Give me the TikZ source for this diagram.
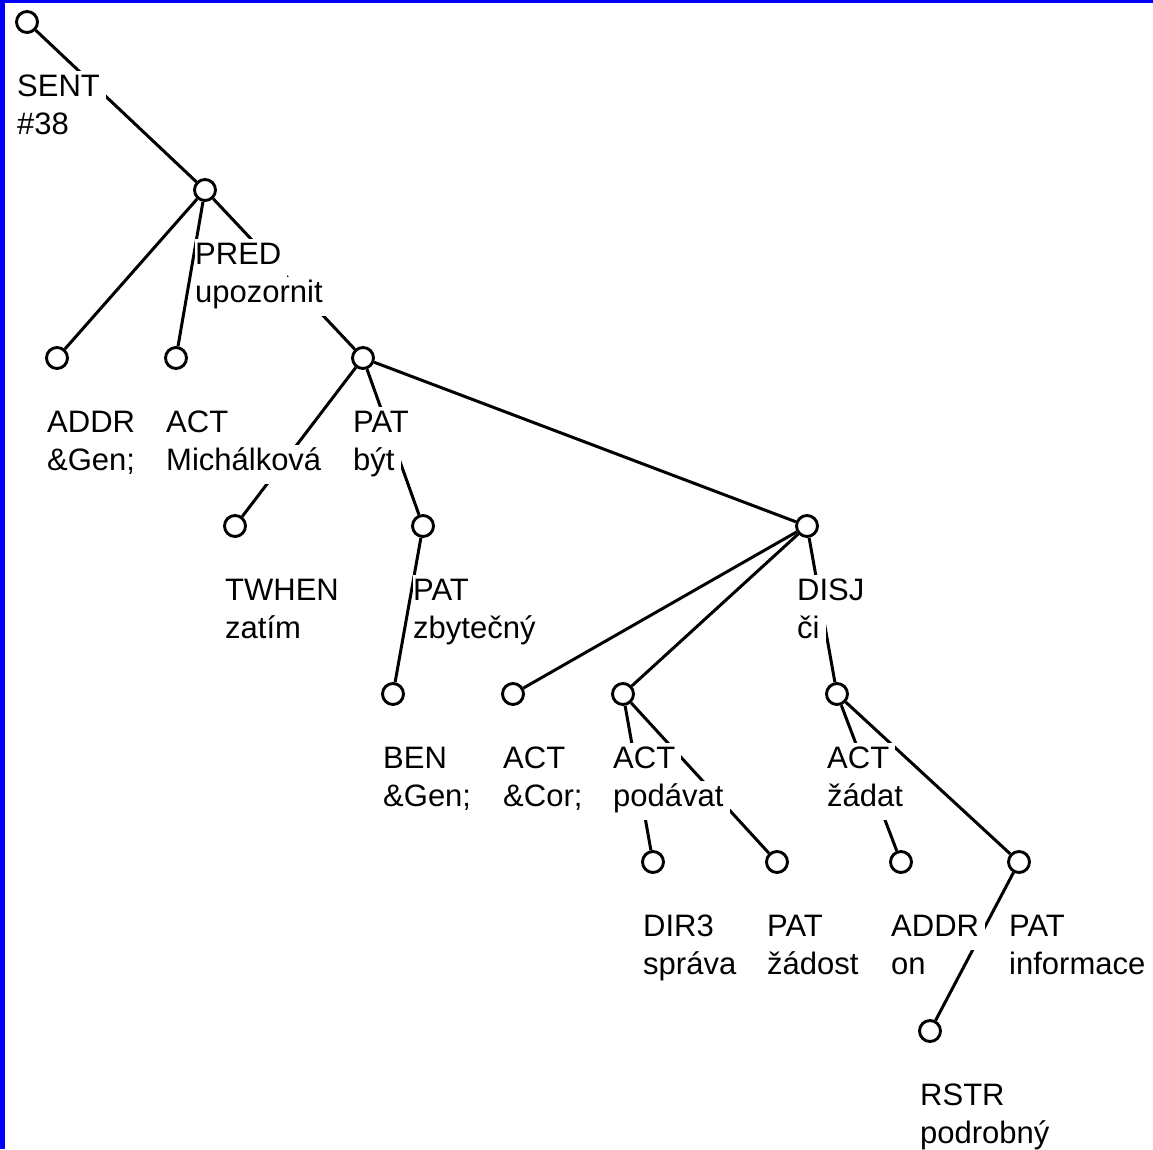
\documentclass[tikz,border=0pt]{standalone}
\usepackage{fontspec}
\setmainfont{Liberation Sans}
\begin{document}
\begin{tikzpicture}[x=1pt,y=-1pt,
    dot/.style={draw, circle, line width=2.9pt, minimum size=21pt, inner sep=0pt, fill=white},
    edge/.style={line width=3pt},
    lbl/.style={fill=white, inner sep=0pt, anchor=base west, text height=25pt, text depth=14pt,
                font=\fontsize{31}{38}\selectfont, execute at end node={\kern6pt}}]
  \useasboundingbox (0,0) rectangle (1153,1149);
  \fill[blue] (0,0) rectangle (1153,3);
  \fill[blue] (0,0) rectangle (5,1149);

  % tree nodes
  \foreach \n/\x/\y in {root/27/22, pred/205/190,
                        addr/57/358, act/176/358, pat/363/358,
                        twhen/235/526, patz/423/526, disj/807/526,
                        ben/393/694, actcor/513/694, podavat/623/694, zadat/837/694,
                        dir/653/862, zadost/777/862, addron/901/862, info/1019/862,
                        rstr/930/1031}
    \node[dot] (\n) at (\x,\y) {};

  % edges
  \foreach \a/\b in {root/pred, pred/addr, pred/act, pred/pat,
                     pat/twhen, pat/patz, pat/disj, patz/ben,
                     disj/actcor, disj/podavat, disj/zadat,
                     podavat/dir, podavat/zadost, zadat/addron, zadat/info, info/rstr}
    \draw[edge] (\a) -- (\b);

  % functor and lemma under each node
  \foreach \n/\f/\l in {root/SENT/\#38, pred/PRED/upozornit,
                        addr/ADDR/\&Gen;, act/ACT/Michálková, pat/PAT/být,
                        twhen/TWHEN/zatím, patz/PAT/zbytečný, disj/DISJ/či,
                        ben/BEN/\&Gen;, actcor/ACT/\&Cor;, podavat/ACT/podávat, zadat/ACT/žádat,
                        dir/DIR3/správa, zadost/PAT/žádost, addron/ADDR/on, info/PAT/informace,
                        rstr/RSTR/podrobný}
  {
    \node[lbl, xshift=-10pt, yshift=-74pt] (\n-f) at (\n) {\f};
    \node[lbl, xshift=-10pt, yshift=-112pt] (\n-l) at (\n) {\l};
  }
\end{tikzpicture}
\end{document}
